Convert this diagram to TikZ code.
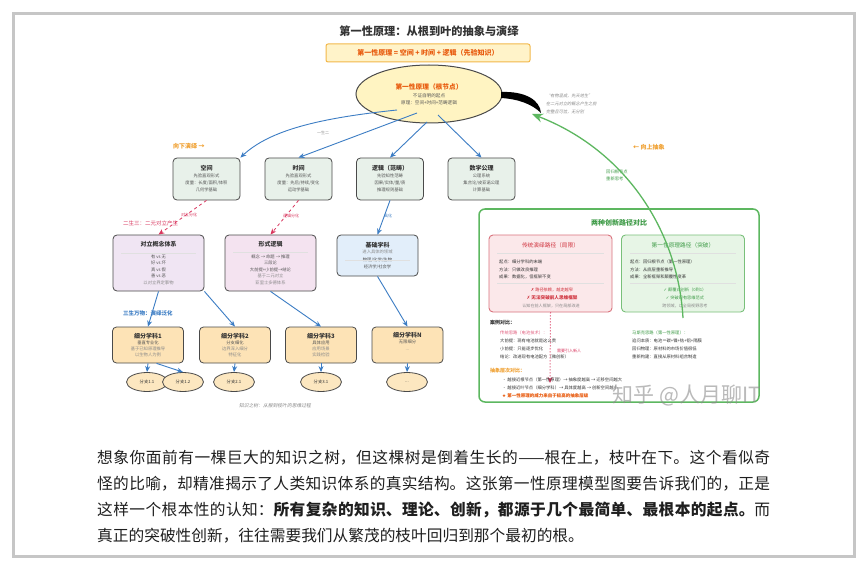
\documentclass[tikz,border=0pt]{standalone}
\usepackage{fontspec}
\setmainfont{Noto Sans CJK SC}
\newfontfamily\symfont{DejaVu Sans}
\newfontfamily\slantfont[FakeSlant=0.2]{Noto Sans CJK SC}
\XeTeXlinebreaklocale "zh"
\XeTeXlinebreakskip=0pt plus 2pt
\usetikzlibrary{positioning,arrows.meta,calc,shapes.geometric}
\definecolor{frameGray}{HTML}{C6C6C6}
\definecolor{inkDark}{HTML}{333333}
\definecolor{bodyInk}{HTML}{1F1F1F}
\definecolor{edgeDark}{HTML}{4A4A4A}
\definecolor{softInk}{HTML}{555555}
\definecolor{noteGray}{HTML}{8A8A8A}
\definecolor{rootYellow}{HTML}{FFF4C2}
\definecolor{bannerLine}{HTML}{F2B84B}
\definecolor{bannerFill}{HTML}{FFF3C9}
\definecolor{rootOrange}{HTML}{E8590C}
\definecolor{labelOrange}{HTML}{F0A030}
\definecolor{sageFill}{HTML}{E8F1EA}
\definecolor{lilacFill}{HTML}{F0E5F3}
\definecolor{pinkFill}{HTML}{F4E3F0}
\definecolor{skyFill}{HTML}{E2EEFA}
\definecolor{peachFill}{HTML}{FDE3B6}
\definecolor{leafFill}{HTML}{FCE7C0}
\definecolor{flowBlue}{HTML}{3C7DC4}
\definecolor{dashRed}{HTML}{D9365E}
\definecolor{pathGreen}{HTML}{5DB760}
\definecolor{greenText}{HTML}{3E9B47}
\definecolor{redText}{HTML}{D0343F}
\definecolor{tradFill}{HTML}{FBE8EA}
\definecolor{tradLine}{HTML}{D9737D}
\definecolor{fpFill}{HTML}{E7F5E6}
\definecolor{fpLine}{HTML}{79C07A}
\newcommand{\boxtitle}[1]{{\fontsize{6}{7}\selectfont\bfseries\color{inkDark}#1}}
\tikzset{
    rowbox/.style={draw=edgeDark,fill=sageFill,rounded corners=4pt,line width=0.8pt,
        minimum width=67pt,minimum height=42pt,align=center,inner sep=1pt,
        font=\fontsize{4.3}{7}\selectfont,text=softInk},
    midbox/.style={rowbox,minimum width=91pt,minimum height=56pt,
        font=\fontsize{4.3}{6.6}\selectfont},
    subbox/.style={rowbox,fill=peachFill,minimum width=71pt,minimum height=36pt,
        font=\fontsize{4.3}{6.2}\selectfont},
    leaf/.style={ellipse,draw=edgeDark,fill=leafFill,line width=0.8pt,
        minimum width=41pt,minimum height=19pt,inner sep=0pt,
        font=\fontsize{4.3}{5}\selectfont,text=inkDark},
    flow/.style={-{Stealth[length=6pt,width=5pt]},draw=flowBlue,line width=0.9pt},
    splitflow/.style={-{Stealth[length=6pt,width=5pt]},dashed,draw=dashRed,line width=0.8pt},
    dotflow/.style={-{Stealth[length=6pt,width=5pt]},dotted,draw=dashRed,line width=1pt},
    backflow/.style={-{Stealth[length=11pt,width=9pt]},draw=pathGreen,line width=1.3pt},
    tag/.style={font=\fontsize{4}{5}\selectfont,inner sep=0pt},
    pathbox/.style={rounded corners=4pt,line width=0.9pt,minimum width=123pt,minimum height=77pt},
    caseline/.style={anchor=west,inner sep=0pt,font=\fontsize{4.3}{5}\selectfont,text=inkDark},
    sepline/.style={draw=black!12,line width=0.4pt}
}
\begin{document}
\begin{tikzpicture}[x=1pt,y=-1pt]
    \useasboundingbox (0,0) rectangle (868,567);
    \fill[white] (0,0) rectangle (868,567);
    \draw[frameGray,line width=3pt] (13.5,13.5) rectangle (854.5,556.5);

    \node[font=\fontsize{11.2}{13}\selectfont\bfseries,text=inkDark] (title) at (429,31) {第一性原理：从根到叶的抽象与演绎};
    \node[draw=bannerLine,fill=bannerFill,rounded corners=2pt,line width=1pt,minimum width=204pt,minimum height=18pt,inner sep=0pt,
        font=\fontsize{7}{8}\selectfont\bfseries,text=rootOrange] (banner) at (428,53) {第一性原理 = 空间 + 时间 + 逻辑（先验知识）};
    \node[ellipse,draw=edgeDark,fill=rootYellow,line width=1pt,minimum width=146pt,minimum height=58pt,inner sep=0pt,align=center,
        font=\fontsize{4.6}{7}\selectfont,text=softInk] (root) at (429,94)
        {{\fontsize{6.7}{8}\selectfont\bfseries\color{rootOrange}第一性原理（根节点）}\\[1pt]不证自明的起点\\原理：空间+时间+范畴逻辑};
    \fill[black] (501,92) .. controls (525,91) and (540,100) .. (541,113) .. controls (532,104) and (518,99) .. (501,98) -- cycle;
    \foreach \y/\txt in {96/“有物混成，先天地生”,104/在二元对立的概念产生之前,112/完整且可信，无分别}
        \node[caseline,font=\slantfont\fontsize{4.2}{5}\selectfont,text=noteGray] at (546,\y) {\txt};

    \node[anchor=west,inner sep=0pt,font=\fontsize{6}{7}\selectfont\bfseries,text=labelOrange] (down) at (173,146) {向下演绎 →};
    \node[anchor=west,inner sep=0pt,font=\fontsize{6}{7}\selectfont\bfseries,text=labelOrange] (up) at (633,147) {← 向上抽象};

    \node[rowbox] (s1) at (206.5,179) {\boxtitle{空间}\\先验直观形式\\度量：长度/面积/体积\\几何学基础};
    \node[rowbox] (s2) at (298.5,179) {\boxtitle{时间}\\先验直观形式\\度量：先后/持续/变化\\运动学基础};
    \node[rowbox] (s3) at (390,179) {\boxtitle{逻辑（范畴）}\\先验知性范畴\\因果/实体/量/质\\推理规则基础};
    \node[rowbox] (s4) at (481.5,179) {\boxtitle{数学公理}\\公理系统\\集合论/皮亚诺公理\\计算基础};

    \coordinate (r1) at (397,110);
    \coordinate (r2) at (417,113);
    \coordinate (r3) at (427,122);
    \coordinate (r4) at (438,115);
    \draw[flow] (r1) .. controls (320,118) and (270,130) .. (s1.north east);
    \draw[flow] (r2) -- (s2.north);
    \draw[flow] (r3) -- (s3.north);
    \draw[flow] (r4) -- (s4.north);
    \node[tag,text=noteGray] at (323,133) {一生二};

    \node[midbox,fill=lilacFill] (c1) at (158.5,263)
        {\boxtitle{对立概念体系}\\[5pt]有 vs 无\\好 vs 坏\\真 vs 假\\善 vs 恶\\{\color{noteGray}以对立界定事物}};
    \node[midbox,fill=pinkFill] (c2) at (270.5,263)
        {\boxtitle{形式逻辑}\\[5pt]概念 → 命题 → 推理\\三段论\\大前提+小前提→结论\\{\color{noteGray}基于二元对立}\\{\color{noteGray}亚里士多德体系}};
    \node[rowbox,fill=skyFill,minimum width=81pt,minimum height=41pt,font=\fontsize{4.3}{6.4}\selectfont] (c3) at (377.5,255.5)
        {\boxtitle{基础学科}\\{\color{noteGray}进入具体的领域}\\[2pt]物理/化学/生物\\经济学/社会学};
    \draw[sepline] (121,253) -- (196,253);
    \draw[sepline] (233,252) -- (308,252);
    \draw[sepline] (345,260) -- (410,260);

    \node[anchor=west,inner sep=0pt,font=\fontsize{5.5}{6}\selectfont,text=dashRed] (two) at (123,223) {二生三：二元对立产生};
    \draw[splitflow] (s1.south) -- (c1.north);
    \draw[splitflow] (s2.south) -- (c2.north);
    \draw[flow] (s3.south) -- (c3.north);
    \node[tag,text=dashRed] at (189,215) {对立分化};
    \node[tag,text=dashRed] at (291,216) {逻辑分化};
    \node[tag,text=flowBlue] at (388,216) {具化};

    \node[anchor=west,inner sep=0pt,font=\fontsize{5.5}{6}\selectfont\bfseries,text=flowBlue] (three) at (123,313) {三生万物：演绎泛化};
    \node[subbox] (d1) at (148,345) {\boxtitle{细分学科1}\\垂直专业化\\{\color{noteGray}基于已知原理推导}\\{\color{noteGray}以生物人为例}};
    \node[subbox] (d2) at (235,345) {\boxtitle{细分学科2}\\分支细化\\{\color{noteGray}边界深入细分}\\{\color{noteGray}特征化}};
    \node[subbox] (d3) at (321,345) {\boxtitle{细分学科3}\\具体应用\\{\color{noteGray}应用场景}\\{\color{noteGray}实践检验}};
    \node[subbox] (d4) at (407.5,345) {\boxtitle{细分学科N}\\无限细分\\{\color{noteGray}...}\\[1pt]\mbox{}};
    \draw[flow] (c1.south) -- (d1.north);
    \draw[flow] (c1.south east) -- (d2.north);
    \draw[flow] (c2.south) -- (d3.north);
    \draw[flow] (c3.south) -- (d4.north);

    \foreach \name/\x/\txt in {l1/147/分支1.1,l2/183/分支1.2,l3/234/分支2.1,l4/321/分支3.1}
        \node[leaf] (\name) at (\x,382) {\txt};
    \node[leaf] (l5) at (407,382) {...};
    \draw[flow] (d1.south) -- (l1.north);
    \draw[flow] (d1.-65) -- (l2.north);
    \draw[flow] (d2.south) -- (l3.north);
    \draw[flow] (d3.south) -- (l4.north);
    \draw[flow] (d4.south) -- (l5.north);
    \node[font=\slantfont\fontsize{4.8}{5}\selectfont,text=noteGray] (caption) at (275,406) {知识之树：从根到枝叶的思维过程};

    \node[draw=pathGreen,fill=white,rounded corners=6pt,line width=1.5pt,minimum width=280pt,minimum height=193pt] (cmp) at (619,305.5) {};
    \node[font=\fontsize{7}{8}\selectfont\bfseries,text=greenText] (cmptitle) at (619,223) {两种创新路径对比};

    \node[pathbox,draw=tradLine,fill=tradFill] (trad) at (550.5,273.5) {};
    \node[font=\fontsize{5.7}{6}\selectfont,text=redText] at (550.5,245) {传统演绎路径（局限）};
    \draw[sepline] (497,253) -- (604,253);
    \foreach \y/\txt in {262/起点：细分学科的末端,270/方法：只做改良推理,277/成果：数据化，但框架不变}
        \node[caseline] at (499,\y) {\txt};
    \draw[sepline] (497,283) -- (604,283);
    \node[tag,font=\fontsize{4.2}{5}\selectfont,text=redText] at (552,290) {{\symfont ✗} 路径依赖，越走越窄};
    \node[tag,font=\fontsize{4.6}{5}\selectfont\bfseries,text=redText] at (552,298) {{\symfont ✗} 无法突破前人思维框架};
    \node[tag,font=\fontsize{4.1}{5}\selectfont,text=noteGray] at (551,306) {认知在前人框架，只在局部改进};

    \node[pathbox,draw=fpLine,fill=fpFill] (fp) at (683,273.5) {};
    \node[font=\fontsize{5.7}{6}\selectfont,text=greenText] at (683,245) {第一性原理路径（突破）};
    \draw[sepline] (630,253) -- (736,253);
    \foreach \y/\txt in {262/起点：回归根节点（第一性原理）,270/方法：从底层重新推导,277/成果：全新框架和颠覆性变革}
        \node[caseline] at (630,\y) {\txt};
    \draw[sepline] (630,283) -- (736,283);
    \node[tag,font=\fontsize{4.2}{5}\selectfont,text=greenText] at (685,290) {{\symfont ✓} 颠覆式创新（0到1）};
    \node[tag,font=\fontsize{4.2}{5}\selectfont,text=greenText] at (685,298) {{\symfont ✓} 突破现有思维范式};
    \node[tag,font=\fontsize{4.1}{5}\selectfont,text=noteGray] at (685,306) {跨领域，以全局视野思考};

    \node[caseline,font=\fontsize{5}{6}\selectfont\bfseries] (cases) at (490,323) {案例对比：};
    \node[caseline,text=dashRed!80] at (500,333) {传统思路（电池技术）：};
    \foreach \y/\txt in {341/大前提：现有电池就是这么贵,349/小前提：只能逐步优化,357/结论：改进现有电池配方（微创新）}
        \node[caseline] at (500,\y) {\txt};
    \node[caseline,text=greenText] at (632,333) {马斯克思路（第一性原理）：};
    \foreach \y/\txt in {341/追问本质：电池＝碳+镍+钴+铝+隔膜,349/回归物理：原材料的市场价值很低,357/重新构建：直接从原材料组合制造}
        \node[caseline] at (632,\y) {\txt};

    \coordinate (dotend) at (550,383);
    \draw[dotflow] (trad.south) -- (dotend);
    \node[tag,text=dashRed] at (569,351) {需要引入新人};

    \node[caseline,font=\fontsize{5}{6}\selectfont\bfseries,text=labelOrange] (levels) at (490,371) {抽象层次对比：};
    \node[caseline] at (502,380) {· 越接近根节点（第一性原理）→ 抽象度越高 → 迁移空间越大};
    \node[caseline] at (502,388) {· 越接近叶节点（细分学科）→ 具体度越高 → 创新空间越小};
    \node[caseline,font=\fontsize{4.5}{5}\selectfont\bfseries,text=rootOrange] at (502,396) {{\symfont ★} 第一性原理的威力来自于极高的抽象层级};

    \node[font=\fontsize{21}{22}\selectfont,text=black!45,opacity=0.6,inner sep=0pt] (mark) at (687,395) {知乎 @人月聊IT};

    \node[anchor=west,align=left,text width=80pt,inner sep=0pt,font=\fontsize{4.3}{7}\selectfont,text=greenText] (backlabel) at (606,175.5) {回归根节点\\重新思考};
    \coordinate (backstart) at (683,318);
    \coordinate (backtip) at (532,114);
    \draw[backflow] (backstart) .. controls (678,230) and (625,150) .. (backtip);

    \node[anchor=west,inner sep=0pt,text width=673pt,align=justify,font=\fontsize{15.7}{26}\selectfont,text=bodyInk] (story) at (97,497)
        {想象你面前有一棵巨大的知识之树，但这棵树是倒着生长的——根在上，枝叶在下。这个看似奇\linebreak
        怪的比喻，却精准揭示了人类知识体系的真实结构。这张第一性原理模型图要告诉我们的，正是\linebreak
        这样一个根本性的认知：{\bfseries 所有复杂的知识、理论、创新，都源于几个最简单、最根本的起点。}而\linebreak
        真正的突破性创新，往往需要我们从繁茂的枝叶回归到那个最初的根。};
\end{tikzpicture}
\end{document}
